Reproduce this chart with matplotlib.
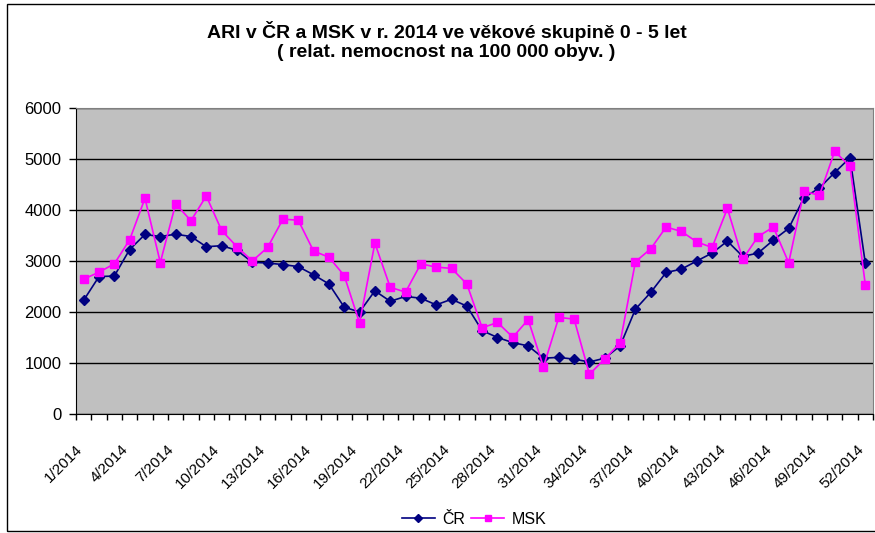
import matplotlib
matplotlib.use("Agg")
import matplotlib.pyplot as plt
import matplotlib.transforms as mtransforms
from matplotlib.patches import Rectangle

plt.rcParams['font.family'] = ['Liberation Sans', 'DejaVu Sans']

weeks = [f"{w}/2014" for w in range(1, 53)]

cr = [2230, 2695, 2705, 3225, 3520, 3480, 3525, 3480, 3280, 3300,
      3210, 2975, 2960, 2930, 2890, 2730, 2550, 2095, 2000, 2415,
      2210, 2305, 2270, 2140, 2250, 2115, 1635, 1500, 1400, 1335,
      1095, 1110, 1075, 1020, 1095, 1335, 2055, 2385, 2775, 2840,
      3000, 3155, 3390, 3090, 3155, 3410, 3640, 4245, 4430, 4735,
      5025, 2955]

msk = [2645, 2780, 2945, 3415, 4230, 2970, 4120, 3790, 4275, 3600,
       3280, 3000, 3265, 3820, 3800, 3195, 3075, 2715, 1785, 3350,
       2485, 2390, 2945, 2880, 2855, 2550, 1690, 1795, 1505, 1850,
       925, 1895, 1860, 780, 1080, 1395, 2985, 3240, 3665, 3580,
       3375, 3265, 4030, 3035, 3480, 3665, 2965, 4370, 4285, 5150,
       4855, 2530]

fig = plt.figure(figsize=(8.75, 5.33), dpi=100)
W, H = 875, 533

# outer chart frame
fig.patches.append(Rectangle((7 / W, 2 / H), 880 / W, 527 / H, transform=fig.transFigure,
                             fill=False, edgecolor='black', linewidth=1.0))

ax = fig.add_axes([76 / W, (H - 414) / H, 797 / W, 306 / H])
ax.set_facecolor('#C0C0C0')

x = list(range(len(weeks)))
ax.plot(x, cr, color='#000080', marker='D', markersize=5.5, linewidth=1.2, label='ČR')
ax.plot(x, msk, color='#FF00FF', marker='s', markersize=6, linewidth=1.2, label='MSK')

ax.set_ylim(0, 6000)
ax.set_yticks(range(0, 6001, 1000))
ax.yaxis.grid(True, color='black', linewidth=1.0)
ax.set_axisbelow(True)
ax.tick_params(axis='y', direction='out', length=5, width=1, labelsize=12, pad=5.5)

ax.set_xlim(-0.5, len(weeks) - 0.5)
ax.set_xticks(x[::3])
ax.set_xticklabels(weeks[::3], rotation=45, ha='right', va='center', rotation_mode='anchor', fontsize=11)
ax.set_xticks([i - 0.5 for i in range(len(weeks) + 1)], minor=True)
ax.tick_params(axis='x', which='major', length=0, pad=24)
ax.tick_params(axis='x', which='minor', direction='out', length=4, width=1)

# nudge the rotated week labels a little to the left
shift = mtransforms.ScaledTranslation(-4 / 100, 0, fig.dpi_scale_trans)
for lbl in ax.get_xticklabels():
    lbl.set_transform(lbl.get_transform() + shift)

for side in ['top', 'right']:
    ax.spines[side].set_color('#808080')
for side in ['left', 'bottom']:
    ax.spines[side].set_color('black')

fig.text(447 / W, 1 - 38 / H, "ARI v ČR a MSK v r. 2014 ve věkové skupině 0 - 5 let",
         ha='center', va='baseline', fontsize=14, fontweight='bold')
fig.text(446 / W, 1 - 57 / H, "( relat. nemocnost na 100 000 obyv. )",
         ha='center', va='baseline', fontsize=14, fontweight='bold')

fig.legend(loc='center', bbox_to_anchor=(474 / W, 1 - 519 / H), ncol=2, frameon=False,
           fontsize=11.5, handlelength=2.1, columnspacing=0.35, handletextpad=0.45,
           borderpad=0.2, markerscale=0.8)

fig.savefig('out.png', dpi=100)
